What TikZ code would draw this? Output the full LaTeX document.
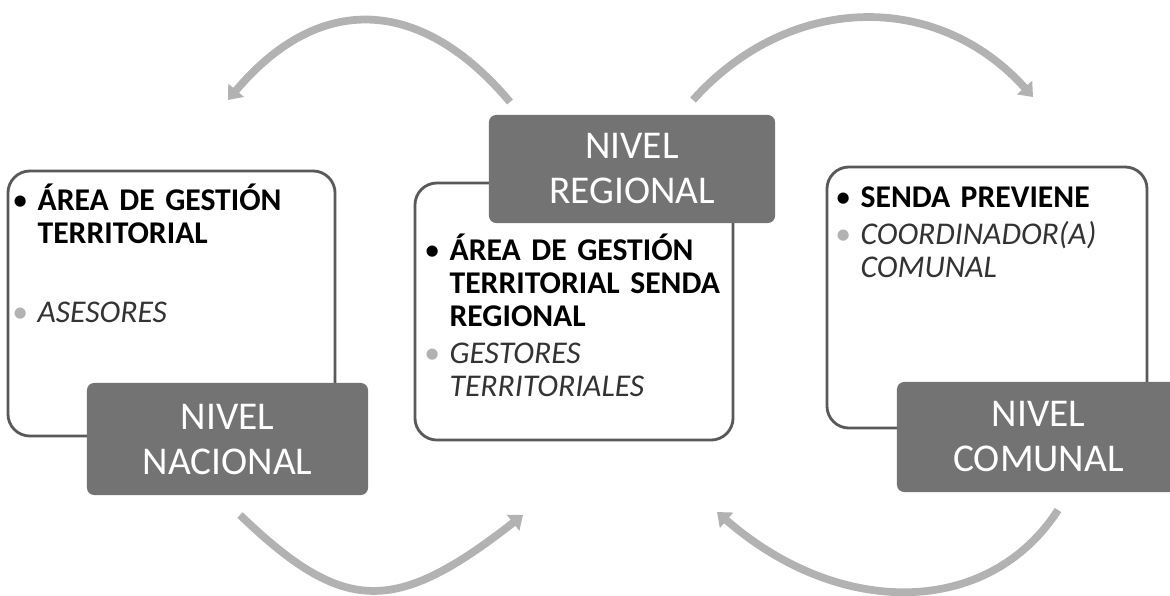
\documentclass[tikz,border=0pt]{standalone}
\usepackage{fontspec}
\setmainfont{Carlito}
\usetikzlibrary{arrows.meta}

\newcommand{\itemb}[1]{\noindent\hangindent=18pt\hangafter=1\strut\makebox[18pt][l]{#1}}

\begin{document}
\begin{tikzpicture}[x=0.025cm,y=0.025cm,>={Triangle[width=14pt,length=9pt]}]
	\tikzstyle{frame}=[rectangle, rounded corners=0.55cm, draw=black!65, line width=2pt, fill=white]
	\tikzstyle{level}=[rectangle, rounded corners=0.18cm, fill=black!55, text=white, font=\fontsize{28}{32}\selectfont, align=center]
	\tikzstyle{items}=[anchor=north west, inner sep=0pt, text width=9cm, font=\raggedright\fontsize{22.5}{23.5}\selectfont]
	\tikzstyle{cycle}=[->, draw=black!30, line width=5.5pt]

	\useasboundingbox (0,0) rectangle (1170,595);

	\node [frame, minimum width=8.175cm, minimum height=6.625cm] (fnac) at (171.5,291.5) {};
	\node [frame, minimum width=7.95cm, minimum height=6.425cm] (freg) at (574,283.5) {};
	\node [frame, minimum width=8cm, minimum height=6.525cm] (fcom) at (987,297.5) {};

	\node [items] (tnac) at (12,411.7) {\itemb{\textbullet}\textbf{ÁREA DE GESTIÓN\newline TERRITORIAL}\par\vspace{33pt}
		\itemb{\textcolor{black!30}{\textbullet}}\textcolor{black!80}{\textit{ASESORES}}\par};
	\node [items] (treg) at (424,361.7) {\itemb{\textbullet}\textbf{ÁREA DE GESTIÓN\newline TERRITORIAL SENDA\newline REGIONAL}\par\vspace{3pt}
		\itemb{\textcolor{black!30}{\textbullet}}\textcolor{black!80}{\textit{GESTORES\newline TERRITORIALES}}\par};
	\node [items] (tcom) at (835,411) {\itemb{\textbullet}\textbf{SENDA PREVIENE}\par\vspace{3pt}
		\itemb{\textcolor{black!30}{\textbullet}}\textcolor{black!80}{\textit{COORDINADOR(A)\newline COMUNAL}}\par};

	\node [level, minimum width=7.025cm, minimum height=2.8cm] (nac) at (227.5,156) {NIVEL\\NACIONAL};
	\node [level, minimum width=7.15cm, minimum height=2.7cm] (reg) at (632,426) {NIVEL\\REGIONAL};
	\node [level, minimum width=7.075cm, minimum height=2.75cm] (com) at (1038.5,158) {NIVEL\\COMUNAL};

	% arcs between the levels
	\coordinate (tl-s) at (510,493);
	\coordinate (tl-e) at (228,495);
	\coordinate (tr-s) at (693,495);
	\coordinate (tr-e) at (1033,498);
	\coordinate (bl-s) at (240,80);
	\coordinate (bl-e) at (523,80);
	\coordinate (br-s) at (1058,85);
	\coordinate (br-e) at (717,83);
	\draw [cycle] (tl-s) .. controls +(-90,107) and +(90,107) .. (tl-e);
	\draw [cycle] (tr-s) .. controls +(96,107) and +(-96,107) .. (tr-e);
	\draw [cycle] (bl-s) .. controls +(104,-100) and +(-128,-100) .. (bl-e);
	\draw [cycle] (br-s) .. controls +(-69,-107) and +(123,-107) .. (br-e);
\end{tikzpicture}
\end{document}
